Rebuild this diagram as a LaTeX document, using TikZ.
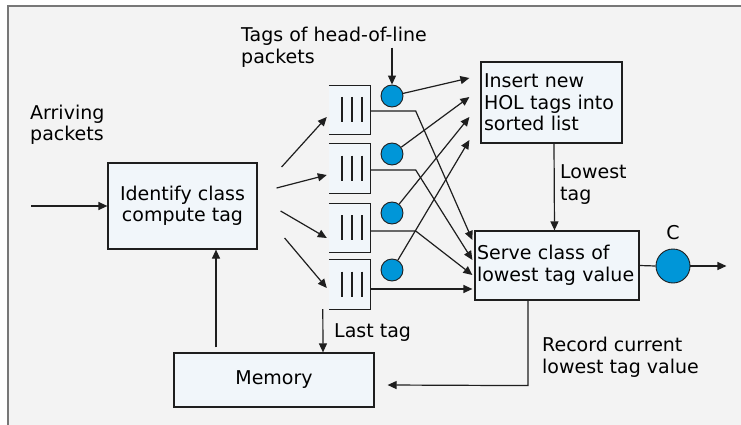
\documentclass[tikz,border=0pt]{standalone}
\usepackage{fontspec}
\setmainfont{DejaVu Sans}
\usetikzlibrary{arrows.meta,calc}
\definecolor{bgcol}{HTML}{F3F3F3}
\definecolor{boxfill}{HTML}{F1F6FA}
\definecolor{framecol}{HTML}{777777}
\definecolor{linecol}{HTML}{1E1E1E}
\definecolor{dotblue}{HTML}{0096D8}
\tikzset{
  txt/.style={font=\fontsize{19}{21.5}\selectfont, text=black},
  procbox/.style={draw=linecol, fill=boxfill, line width=1.2pt, inner sep=0pt},
  queuebox/.style={fill=boxfill, minimum width=41pt, minimum height=49pt, inner sep=0pt},
  tagdot/.style={circle, draw=linecol, fill=dotblue, line width=0.9pt, minimum size=22pt, inner sep=0pt},
  lbl/.style={txt, inner sep=0pt, align=left, anchor=west},
  conn/.style={draw=linecol, line width=1.2pt},
  arr/.style={conn, -{Triangle[length=9pt,width=8pt]}}
}
\begin{document}
\begin{tikzpicture}[x=1pt,y=-1pt]
\useasboundingbox (0,0) rectangle (741,425);
\fill[white] (0,0) rectangle (741,425);
\fill[bgcol] (7,6) rectangle (741,425);
\draw[framecol, line width=2pt] (7.5,425) -- (7.5,6.5) -- (741,6.5);

% boxes
\node[procbox, txt, align=center, minimum width=149pt, minimum height=86pt] (identify) at (182.5,206) {Identify class\\compute tag};
\node[procbox, txt, minimum width=200pt, minimum height=54pt] (memory) at (274,380) {Memory};
\node[procbox, txt, align=left, minimum width=141pt, minimum height=81pt, text width=135pt] (insert) at (551.5,102.5) {Insert new\\HOL tags into\\sorted list};
\node[procbox, txt, align=left, minimum width=164pt, minimum height=69pt, text width=160pt] (serve) at (557,265.5) {Serve class of\\lowest tag value};

% queues
\foreach \n/\y in {q1/110, q2/168.5, q3/228, q4/284.5}{
  \node[queuebox] (\n) at (349.5,\y) {};
  \draw[conn] (\n.north west) -- (\n.north east) -- (\n.south east) -- (\n.south west);
  \foreach \dx in {-7.5,2.5,12.5}{
    \draw[conn] ($(\n.center)+(\dx,-13)$) -- ($(\n.center)+(\dx,12)$);
  }
}

% tag dots
\node[tagdot] (c1) at (392,96) {};
\node[tagdot] (c2) at (392,154) {};
\node[tagdot] (c3) at (392,213) {};
\node[tagdot] (c4) at (392,270) {};
\node[tagdot, minimum size=34pt] (cout) at (673,266) {};

% labels
\node[lbl] (tagslbl) at (241,47.5) {Tags of head-of-line\\packets};
\node[lbl] (arrlbl) at (30,125) {Arriving\\packets};
\node[lbl] (lastlbl) at (334,333) {Last tag};
\node[lbl] (lowlbl) at (560,184.5) {Lowest\\tag};
\node[lbl] (reclbl) at (542,357.5) {Record current\\lowest tag value};
\node[txt, inner sep=0pt] (clbl) at (673,233) {C};

% connectors
\coordinate (arrin) at (31,206);
\draw[arr] (arrin) -- (identify.west);
\draw[arr] ($(c1.north)+(0,-37)$) -- (c1.north);

\draw[arr] ($(identify.east)+(24,-39)$) -- ($(q1.west)+(-2,7)$);
\draw[arr] ($(identify.east)+(19,-18)$) -- ($(q2.west)+(-2,6.5)$);
\draw[arr] ($(identify.east)+(23,5)$) -- ($(q3.west)+(-2,10)$);
\draw[arr] ($(identify.east)+(27,32)$) -- ($(q4.west)+(-2,3.5)$);

\draw[arr] (c1) -- ($(insert.west)+(-11,-24.5)$);
\draw[arr] (c2) -- ($(insert.west)+(-11,-5.5)$);
\draw[arr] (c3) -- ($(insert.west)+(-11,14.5)$);
\draw[arr] (c4) -- ($(insert.west)+(-11,37.5)$);

\draw[arr] ($(q1.east)+(0,1)$) -- ($(q1.east)+(45.5,1)$) -- ($(serve.west)+(-2,-25.5)$);
\draw[arr] ($(q2.east)+(0,1.5)$) -- ($(q2.east)+(45.5,1.5)$) -- ($(serve.west)+(-2,-5.5)$);
\draw[arr] ($(q3.east)+(0,3)$) -- ($(q3.east)+(45.5,3)$) -- ($(serve.west)+(-2,9.5)$);
\draw[arr] ($(q4.east)+(0,4.5)$) -- ($(serve.west)+(-2,23.5)$);

\draw[arr] ($(insert.south)+(2.5,0)$) -- ($(serve.north)+(-2.5,0)$);
\draw[arr] ($(memory.north)+(-58,-5)$) -- ($(identify.south)+(33.5,0)$);
\draw[arr] ($(q4.south west)+(-6,0)$) -- ($(memory.north)+(49,0)$);
\draw[arr] ($(serve.south)+(-29,0)$) -- ($(serve.south)+(-29,85)$) -- ($(memory.east)+(13,5)$);

\draw[conn] (serve.east) -- (cout.west);
\draw[arr] (cout.east) -- ($(cout.east)+(36,0)$);
\end{tikzpicture}
\end{document}
